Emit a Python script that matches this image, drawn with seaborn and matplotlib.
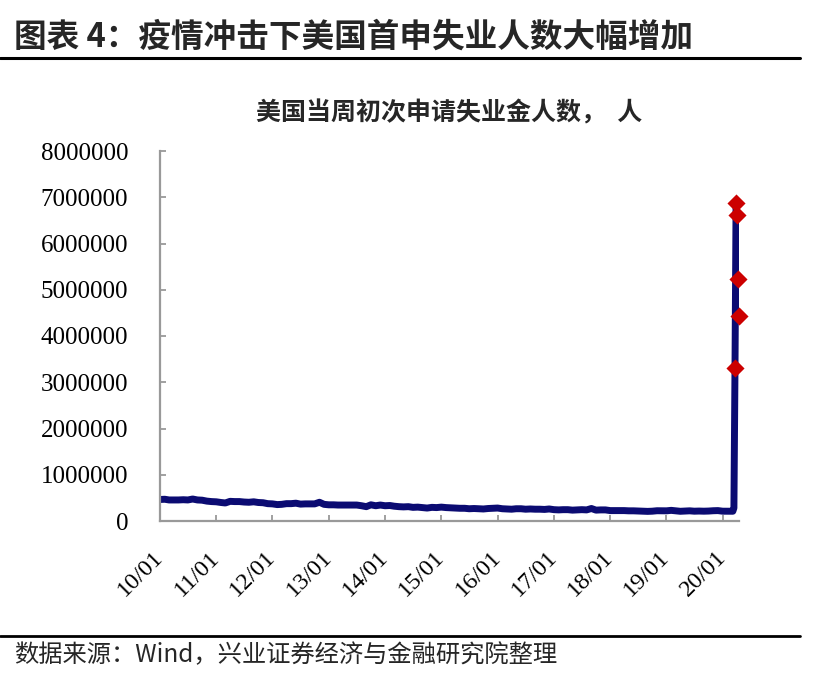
import matplotlib
matplotlib.use("Agg")
import matplotlib.pyplot as plt
from matplotlib.lines import Line2D
import seaborn as sns
import pandas as pd
import numpy as np

# ---------------- data (thousands of persons) ----------------
monthly_claims_k = [
    465, 470, 455, 455, 455, 460, 455, 475, 455, 450, 430, 420,   # 2010
    415, 400, 390, 425, 420, 420, 410, 405, 415, 400, 395, 375,   # 2011
    370, 355, 360, 375, 375, 385, 365, 370, 370, 370, 405, 360,   # 2012
    350, 350, 345, 345, 345, 345, 345, 330, 310, 350, 330, 345,   # 2013
    330, 335, 320, 310, 305, 310, 295, 300, 290, 280, 295, 290,   # 2014
    300, 290, 285, 280, 275, 275, 265, 270, 265, 260, 270, 275,   # 2015
    280, 265, 260, 255, 265, 265, 255, 260, 255, 255, 250, 260,   # 2016
    245, 240, 245, 245, 235, 240, 245, 240, 270, 235, 240, 240,   # 2017
    225, 225, 225, 225, 220, 220, 215, 212, 208, 212, 222, 220,   # 2018
    220, 230, 220, 210, 215, 220, 212, 215, 212, 215, 222, 225,   # 2019
    212, 212,                                                     # 2020 Jan-Feb
]
weekly_dates_2020 = ["2020-03-07", "2020-03-14", "2020-03-21", "2020-03-28",
                     "2020-04-04", "2020-04-11", "2020-04-18"]
weekly_claims_2020_k = [211, 282, 3307, 6867, 6615, 5237, 4427]
n_highlight = 5

y_ticks = [0, 1000000, 2000000, 3000000, 4000000, 5000000, 6000000, 7000000, 8000000]
y_tick_labels = ["0", "1000000", "2000000", "3000000", "4000000", "5000000",
                 "6000000", "7000000", "8000000"]
x_tick_dates = ["2010-01-01", "2011-01-01", "2012-01-01", "2013-01-01", "2014-01-01",
                "2015-01-01", "2016-01-01", "2017-01-01", "2018-01-01", "2019-01-01",
                "2020-01-01"]
x_tick_labels = ["10/01", "11/01", "12/01", "13/01", "14/01", "15/01", "16/01",
                 "17/01", "18/01", "19/01", "20/01"]

header = "图表 4：疫情冲击下美国首申失业人数大幅增加"
chart_title = "美国当周初次申请失业金人数，  人"
source = "数据来源：Wind，兴业证券经济与金融研究院整理"

# ---------------- build frame ----------------
monthly_dates = pd.date_range("2010-01-01", periods=len(monthly_claims_k), freq="MS")
dates = list(monthly_dates) + list(pd.to_datetime(weekly_dates_2020))
values = [v * 1000 for v in monthly_claims_k + weekly_claims_2020_k]
df = pd.DataFrame({"date": dates, "claims": values})
hl = df.tail(n_highlight)

# ---------------- style ----------------
sns.set_style("white")
plt.rcParams["font.family"] = ["Noto Sans CJK SC", "DejaVu Sans"]

fig = plt.figure(figsize=(8.14, 6.75), dpi=100)
ax = fig.add_axes([160 / 814, 1 - 521 / 675, (739 - 160) / 814, (521 - 151) / 675])

navy = "#0b0b72"
red = "#cc0000"
sns.lineplot(data=df, x="date", y="claims", ax=ax, color=navy, linewidth=5,
             solid_capstyle="round", solid_joinstyle="round")
sns.scatterplot(data=hl, x="date", y="claims", ax=ax, color=red, marker="D",
                s=85, edgecolor=red, linewidth=0, zorder=5, clip_on=False)

ax.set_xlim(pd.Timestamp("2010-01-01"), pd.Timestamp("2020-04-16"))
ax.set_ylim(0, 8000000)
ax.set_yticks(y_ticks)
ax.set_yticklabels(y_tick_labels, fontfamily="Liberation Serif", fontsize=18)
ax.set_xticks(pd.to_datetime(x_tick_dates))
ax.set_xticklabels(x_tick_labels, fontfamily="Liberation Serif", fontsize=17.5,
                   rotation=45, ha="right", va="center", rotation_mode="anchor")
ax.set_xlabel("")
ax.set_ylabel("")

for side in ["top", "right"]:
    ax.spines[side].set_visible(False)
for side in ["left", "bottom"]:
    ax.spines[side].set_color("#999999")
    ax.spines[side].set_linewidth(1.6)
ax.tick_params(axis="y", direction="in", length=4, width=1.3, color="#999999",
               pad=23, labelcolor="black", left=True)
ax.tick_params(axis="x", direction="in", length=4, width=1.3, color="#999999",
               pad=24, labelcolor="black", bottom=True)
ax.grid(False)

ax.set_title(chart_title, fontsize=18, fontweight="bold", pad=22,
             fontfamily=["Noto Sans CJK SC", "DejaVu Sans"])

# header & footer
fig.text(14 / 814, 1 - 37 / 675, header, fontsize=23.5, fontweight="bold",
         va="center", ha="left", family=["Noto Sans CJK SC", "DejaVu Sans"])
fig.add_artist(Line2D([0, 800 / 814], [1 - 58 / 675] * 2, transform=fig.transFigure,
                      color="black", linewidth=2.2))
fig.add_artist(Line2D([0, 800 / 814], [1 - 636 / 675] * 2, transform=fig.transFigure,
                      color="black", linewidth=2.0))
fig.text(14 / 814, 1 - 655 / 675, source, fontsize=17.5, va="center", ha="left",
         family=["Noto Sans CJK SC", "DejaVu Sans"])

fig.savefig("out.png", dpi=100, facecolor="white")
